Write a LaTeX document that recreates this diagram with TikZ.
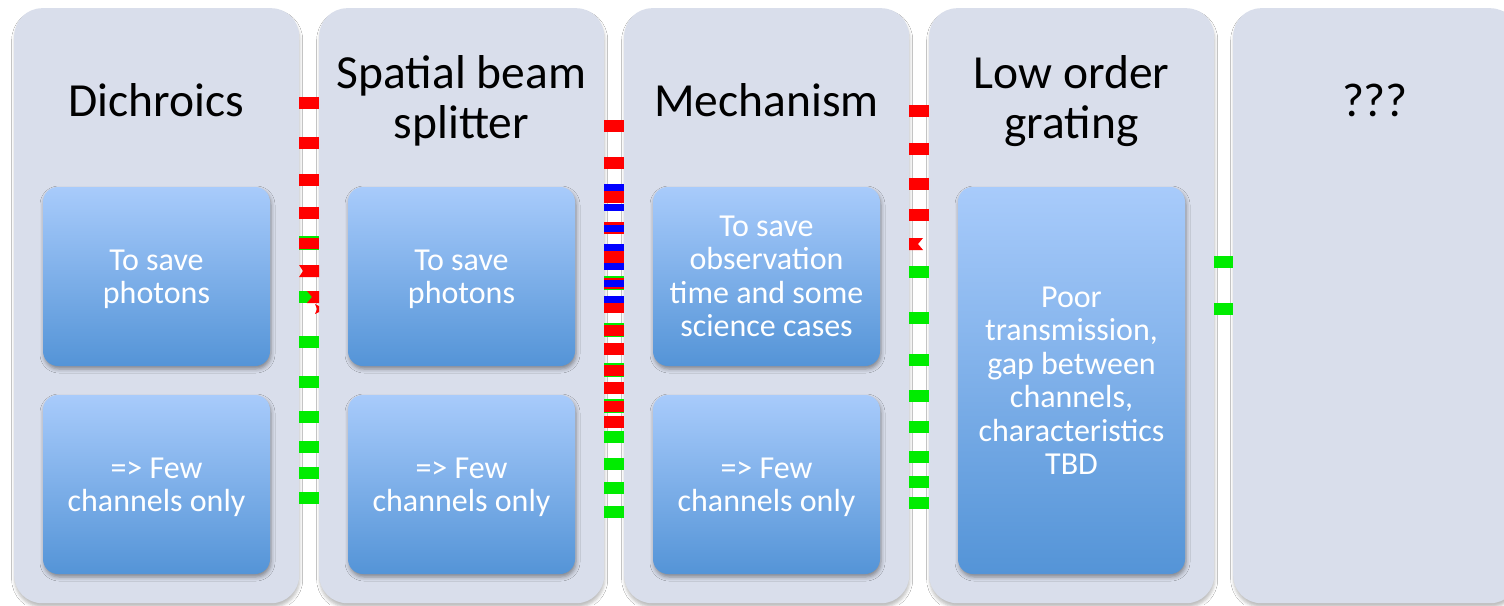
\documentclass[tikz,border=0pt]{standalone}
\usepackage{fontspec}
\setmainfont{Carlito}
\usetikzlibrary{shadows.blur,calc}
\definecolor{panelfill}{RGB}{217,222,235}
\definecolor{boxtop}{RGB}{168,203,251}
\definecolor{boxbot}{RGB}{84,148,215}
\definecolor{mkred}{RGB}{255,0,0}
\definecolor{mkgreen}{RGB}{0,236,0}
\definecolor{mkblue}{RGB}{0,0,255}
% dashed separators between stages: one horizontal bar across a gap
\newcommand{\gapbar}[5]{% left node, right node, centre y, half height, colour
  \fill[#5] ($(#1.north east)+(0,#3-8-#4)$) rectangle ($(#2.north west)+(0,#3-8+#4)$);}
\begin{document}
\begin{tikzpicture}[x=1pt,y=-1pt,
  panel/.style={rectangle, rounded corners=28pt, fill=panelfill,
    minimum width=285pt, minimum height=595pt, anchor=north west, inner sep=0pt,
    blur shadow={shadow xshift=0.5pt, shadow yshift=-4pt, shadow blur radius=3pt, shadow opacity=25}},
  title/.style={align=center, inner sep=0pt, font=\fontsize{47.5}{50}\selectfont},
  card/.style={rectangle, rounded corners=15pt, top color=boxtop, bottom color=boxbot,
    minimum width=227pt, inner sep=0pt, text=white, align=center,
    font=\fontsize{32}{33.5}\selectfont,
    blur shadow={shadow xshift=1pt, shadow yshift=-3pt, shadow blur radius=4pt, shadow opacity=40}},
  short/.style={minimum height=179pt},
  tall/.style={minimum height=387pt},
  lower/.style={text depth=0pt},
]
\clip (0,0) rectangle (1504,605);
\fill[white] (0,0) rectangle (1504,605);

% stage panels
\node[panel] (c1) at (14,8) {};
\node[panel] (c2) at (319,8) {};
\node[panel] (c3) at (624,8) {};
\node[panel] (c4) at (929,8) {};
\node[panel] (c5) at (1233,8) {};

% stage titles
\node[title] (t1) at (156.5,100) {Dichroics};
\node[title] (t2) at (461.5,101) {Spatial beam\\splitter};
\node[title] (t3) at (766.5,100) {Mechanism};
\node[title] (t4) at (1071.5,101) {Low order\\grating};
\node[title] (t5) at (1375,100) {???};

% gap 1
\foreach \yy in {103,143,180,213} {\gapbar{c1}{c2}{\yy}{6}{mkred}}
\gapbar{c1}{c2}{243}{7}{mkgreen}
\gapbar{c1}{c2}{243}{5.5}{mkred}
\fill[mkred] (299,265) -- (319,265) -- (319,277) -- (299,277) -- (303,271) -- cycle;
\gapbar{c1}{c2}{297}{6}{mkgreen}
\fill[mkred] (307,291) -- (319,291) -- (319,303) -- (307,303) -- (312,297) -- cycle;
\fill[mkred] (315,304) -- (319,306) -- (319,312) -- (315,314) -- (317,309) -- cycle;
\foreach \yy in {342,382,417,447,473,498} {\gapbar{c1}{c2}{\yy}{6}{mkgreen}}

% gap 2
\foreach \yy in {126,163,197,257,307,349,388,422} {\gapbar{c2}{c3}{\yy}{6}{mkred}}
\foreach \yy in {283,330,370,406} {\gapbar{c2}{c3}{\yy}{7}{mkgreen}\gapbar{c2}{c3}{\yy}{5.5}{mkred}}
\gapbar{c2}{c3}{228}{6}{mkred}
\foreach \yy in {187,207,228,247,266,283,299} {\gapbar{c2}{c3}{\yy}{3.5}{mkblue}}
\foreach \yy in {437,464,488,512} {\gapbar{c2}{c3}{\yy}{6}{mkgreen}}

% gap 3
\foreach \yy in {111,149,184,215} {\gapbar{c3}{c4}{\yy}{6}{mkred}}
\fill[mkred] (909,238) -- (923,238) -- (918,244) -- (923,250) -- (909,250) -- cycle;
\foreach \yy in {272,318,360,396,427,457,482,503} {\gapbar{c3}{c4}{\yy}{6}{mkgreen}}

% gap 4
\foreach \yy in {262,309} {\gapbar{c4}{c5}{\yy}{6}{mkgreen}}

% boxes inside the stages
\node[card,short,lower] (b1a) at (156.5,276.5) {To save\\photons};
\node[card,short,lower] (b1b) at (156.5,484.5) {=> Few\\channels only};
\node[card,short,lower] (b2a) at (461.5,276.5) {To save\\photons};
\node[card,short,lower] (b2b) at (461.5,484.5) {=> Few\\channels only};
\node[card,short] (b3a) at (766.5,276.5) {To save\\observation\\time and some\\science cases};
\node[card,short,lower] (b3b) at (766.5,484.5) {=> Few\\channels only};
\node[card,tall]  (b4)  at (1071.5,380.5) {Poor\\transmission,\\gap between\\channels,\\characteristics\\TBD};
\end{tikzpicture}
\end{document}
